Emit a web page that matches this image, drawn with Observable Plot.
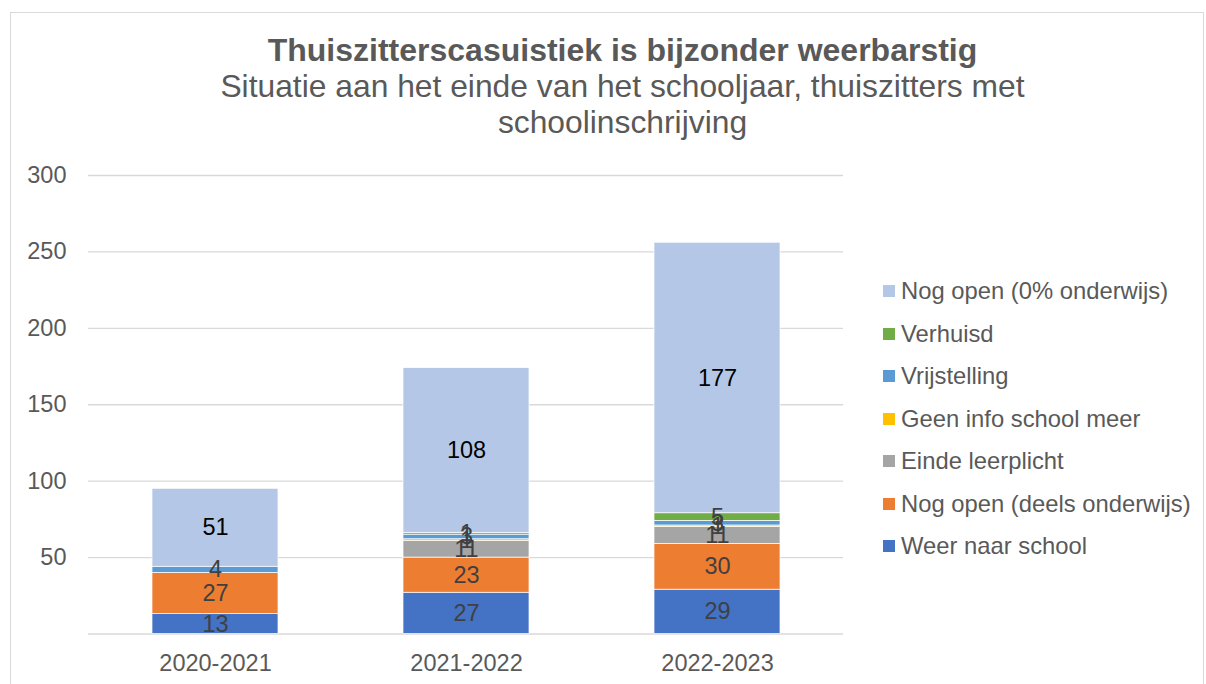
<!DOCTYPE html>
<html>
<head>
<meta charset="utf-8">
<script src="https://cdn.jsdelivr.net/npm/d3@7"></script>
<script src="https://cdn.jsdelivr.net/npm/@observablehq/plot@0.6"></script>
<style>
  html, body { margin: 0; padding: 0; background: #fff; }
  #wrap { position: relative; width: 1206px; height: 684px; overflow: hidden; font-family: "Liberation Sans", Arial, sans-serif; color: #595959; }
  #frame { position: absolute; left: 10px; top: 12px; width: 1194px; height: 700px; border: 1.5px solid #d9d9d9; box-sizing: border-box; }
  #title { position: absolute; left: 0; top: 32px; width: 1245px; text-align: center; font-size: 32px; line-height: 36px; font-weight: bold; white-space: nowrap; }
  #subtitle { position: absolute; left: 0; top: 68px; width: 1245px; text-align: center; font-size: 31.8px; line-height: 36px; }
  #chart { position: absolute; left: 0; top: 150px; }
  #legend { position: absolute; left: 883px; top: 269.75px; font-size: 23.8px; }
  .item { height: 42.5px; display: flex; align-items: center; white-space: nowrap; }
  .sw { width: 12px; height: 12px; margin-right: 6px; flex: none; }
</style>
</head>
<body>
<div id="wrap">
  <div id="frame"></div>
  <div id="title"></div>
  <div id="subtitle"></div>
  <div id="chart"></div>
  <div id="legend"></div>
</div>
<script>
const titleText = "Thuiszitterscasuistiek is bijzonder weerbarstig";
const subtitleLines = ["Situatie aan het einde van het schooljaar, thuiszitters met", "schoolinschrijving"];

const years = ["2020-2021", "2021-2022", "2022-2023"];
const series = ["Weer naar school", "Nog open (deels onderwijs)", "Einde leerplicht", "Geen info school meer", "Vrijstelling", "Verhuisd", "Nog open (0% onderwijs)"];
const colors = ["#4472C4", "#ED7D31", "#A5A5A5", "#FFC000", "#5B9BD5", "#70AD47", "#B4C7E7"];

const weerNaarSchool = [13, 27, 29];
const nogOpenDeels = [27, 23, 30];
const eindeLeerplicht = [null, 11, 11];
const geenInfo = [null, 1, 1];
const vrijstelling = [4, 3, 3];
const verhuisd = [null, 1, 5];
const nogOpenNul = [51, 108, 177];

const yTicks = [50, 100, 150, 200, 250, 300];
const gridTicks = [0, 50, 100, 150, 200, 250, 300];

const valuesBySeries = [weerNaarSchool, nogOpenDeels, eindeLeerplicht, geenInfo, vrijstelling, verhuisd, nogOpenNul];
const rows = [];
series.forEach((s, i) => {
  years.forEach((y, j) => {
    const v = valuesBySeries[i][j];
    if (v != null && v > 0) rows.push({year: y, series: s, value: v});
  });
});
const topSeries = series[series.length - 1];

document.getElementById("title").textContent = titleText;
const sub = document.getElementById("subtitle");
subtitleLines.forEach(line => { const d = document.createElement("div"); d.textContent = line; sub.appendChild(d); });

const chart = Plot.plot({
  width: 860,
  height: 534,
  marginTop: 25,
  marginBottom: 50.5,
  marginLeft: 88,
  marginRight: 17,
  style: {fontFamily: "'Liberation Sans', Arial, sans-serif", fontSize: "23.5px", color: "#595959", background: "transparent", overflow: "visible"},
  x: {domain: years, paddingInner: 0.5, paddingOuter: 0.25, label: null},
  y: {domain: [0, 300], label: null},
  color: {domain: series, range: colors},
  marks: [
    Plot.ruleY(gridTicks, {stroke: "#d9d9d9", strokeWidth: 1.3}),
    Plot.barY(rows, Plot.stackY({x: "year", y: "value", z: "series", fill: "series", order: series, stroke: "#fff", strokeWidth: 0.7})),
    Plot.text(rows, Plot.stackY({x: "year", y: "value", z: "series", order: series, text: d => d.series !== topSeries ? String(d.value) : "", fill: "#404040", fontSize: 23.5})),
    Plot.text(rows, Plot.stackY({x: "year", y: "value", z: "series", order: series, text: d => d.series === topSeries ? String(d.value) : "", fill: "#000", fontSize: 23.5})),
    Plot.axisX({tickSize: 0, tickPadding: 20, fontSize: 23.5, label: null}),
    Plot.axisY({ticks: yTicks, tickSize: 0, tickPadding: 22, fontSize: 23.5, label: null})
  ]
});
document.getElementById("chart").appendChild(chart);

const legend = document.getElementById("legend");
series.slice().reverse().forEach(s => {
  const item = document.createElement("div");
  item.className = "item";
  const sw = document.createElement("span");
  sw.className = "sw";
  sw.style.background = colors[series.indexOf(s)];
  const t = document.createElement("span");
  t.textContent = s;
  item.appendChild(sw);
  item.appendChild(t);
  legend.appendChild(item);
});
</script>
</body>
</html>
